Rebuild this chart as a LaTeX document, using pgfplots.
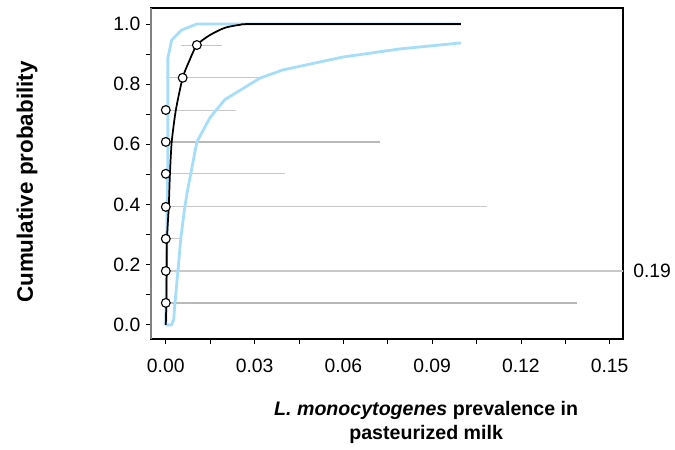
\documentclass[border=0pt]{standalone}
\usepackage{pgfplots}
\pgfplotsset{compat=1.18}
\usepackage{fontspec}
\setmainfont{Liberation Sans}
\definecolor{lblue}{RGB}{166,222,250}
\definecolor{lgray}{RGB}{200,200,200}
\definecolor{mgray}{RGB}{185,185,185}
\begin{document}
\begin{tikzpicture}
\useasboundingbox (0,0) rectangle (506.25pt,337.5pt);
\begin{axis}[
  at={(113.25pt,83.25pt)}, anchor=south west,
  width=354pt, height=248.25pt, scale only axis,
  xmin=-0.005, xmax=0.1545, ymin=-0.047, ymax=1.053,
  clip mode=individual,
  tick align=outside, major tick length=3.5pt, minor tick length=3.5pt,
  xtick={0,0.03,0.06,0.09,0.12,0.15},
  xticklabels={0.00,0.03,0.06,0.09,0.12,0.15},
  ytick={0,0.2,0.4,0.6,0.8,1.0},
  yticklabels={0.0,0.2,0.4,0.6,0.8,1.0},
  minor x tick num=1, minor y tick num=1,
  xtick pos=bottom, ytick pos=left,
  tick style={black, line width=0.6pt},
  axis line style={line width=0.8pt},
  /pgf/number format/assume math mode=true,
  ticklabel style={font=\fontsize{14.5}{17}\selectfont},
  xticklabel style={yshift=-8pt},
  yticklabel style={xshift=-1pt},
  xlabel={\textbf{\textit{L. monocytogenes} prevalence in}\\\textbf{pasteurized milk}},
  xlabel style={at={(axis description cs:0.583,-0.188)}, anchor=north, inner sep=0pt,
    align=center, font=\fontsize{14.7}{18}\selectfont},
  ylabel={\textbf{Cumulative probability}},
  ylabel style={at={(axis description cs:-0.25,0.474)}, anchor=base, inner sep=0pt,
    font=\fontsize{16.8}{20}\selectfont},
]
% uncertainty ranges
\addplot[lgray, line width=0.7pt] coordinates {(0.0051,0.930) (0.0189,0.930)};
\addplot[lgray, line width=0.7pt] coordinates {(0,0.821) (0.0324,0.821)};
\addplot[lgray, line width=0.7pt] coordinates {(0,0.714) (0.0236,0.714)};
\addplot[mgray, line width=1.1pt] coordinates {(0,0.608) (0.0723,0.608)};
\addplot[lgray, line width=0.7pt] coordinates {(0,0.502) (0.0402,0.502)};
\addplot[lgray, line width=0.7pt] coordinates {(0,0.392) (0.1085,0.392)};
\addplot[lgray, line width=0.7pt] coordinates {(0,0.286) (0.0047,0.286)};
\addplot[lgray, line width=0.8pt] coordinates {(0,0.179) (0.19,0.179)};
\addplot[mgray, line width=1.1pt] coordinates {(0,0.073) (0.139,0.073)};
% bounds
\addplot[lblue, line width=2.1pt, line join=round] coordinates {
(0,0) (0.0003,0.25) (0.0007,0.58) (0.0007,0.887) (0.0020,0.947)
(0.0054,0.980) (0.0105,1.0) (0.0997,1.0)};
\addplot[lblue, line width=2.1pt, line join=round] coordinates {
(0,0) (0.0020,0.0) (0.0027,0.02) (0.0030,0.06) (0.0032,0.083)
(0.0041,0.18) (0.0051,0.29) (0.0064,0.39) (0.0074,0.45) (0.0084,0.50)
(0.0105,0.608) (0.0149,0.688) (0.0199,0.748) (0.0318,0.820) (0.0395,0.847)
(0.0598,0.890) (0.0791,0.917) (0.0997,0.937)};
% median
\addplot[black, line width=1.3pt, smooth, tension=0.4] coordinates {
(0,0) (0.0002,0.08) (0.0003,0.18) (0.0004,0.286) (0.0010,0.392)
(0.0014,0.502) (0.0020,0.608) (0.0034,0.714) (0.0057,0.821) (0.0078,0.874)
(0.0105,0.930) (0.0149,0.963) (0.0199,0.987) (0.0250,0.997) (0.0318,1.0)
(0.0997,1.0)};
\addplot[only marks, mark=*, mark size=3.3pt, mark options={fill=white, draw=black, line width=0.85pt}]
coordinates {(0.0105,0.930) (0.0057,0.821) (0,0.714) (0,0.608) (0,0.502)
(0,0.392) (0,0.286) (0,0.179) (0,0.073)};
\draw[gray, line width=0.9pt] (rel axis cs:0,0) -- (rel axis cs:0,1);
\node[anchor=west, inner sep=0pt, xshift=7.5pt, font=\fontsize{14.5}{17}\selectfont]
  at (axis cs:0.1545,0.179) {0.19};
\end{axis}
\end{tikzpicture}
\end{document}
